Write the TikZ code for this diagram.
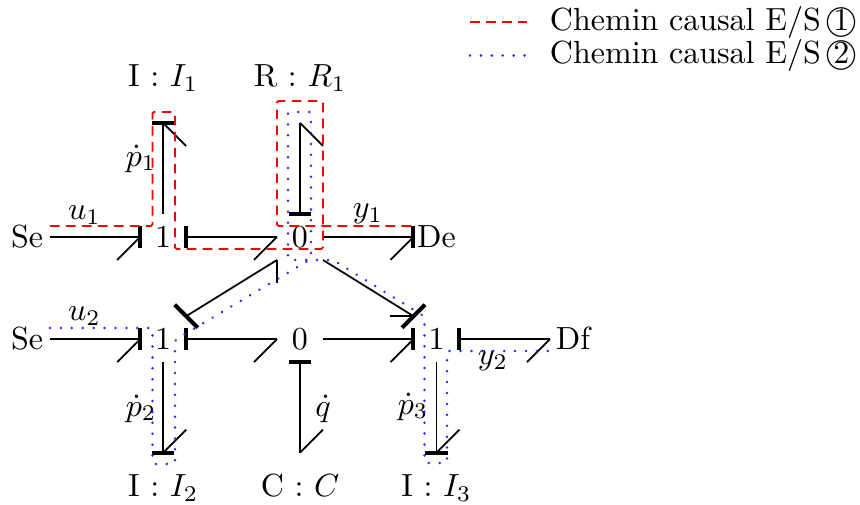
\documentclass[tikz,border=0pt]{standalone}
\usetikzlibrary{calc}
\newcommand{\cbarV}[1]{\draw[causal] (#1) ++(0,-11.3) -- ++(0,22.6);}
\newcommand{\cbarH}[1]{\draw[causal] (#1) ++(-11.3,0) -- ++(22.6,0);}
\newcommand{\cbarD}[1]{\draw[causal] (#1) ++(-11.5,-11.5) -- ++(23,23);}
\newcommand{\cbarA}[1]{\draw[causal] (#1) ++(-11.5,11.5) -- ++(23,-23);}
\newcommand{\cdig}[1]{\hspace*{-1.9pt}\ooalign{\hfil\raisebox{0.1pt}{#1}\hfil\cr$\bigcirc$\cr}}
\tikzset{
  x=0.3125pt,y=-0.3125pt,
  junc/.style={rectangle,inner sep=0pt,outer sep=0pt,minimum size=14.375pt,text height=6.44pt,text depth=0pt},
  portnode/.style={inner sep=0pt,outer sep=0pt,minimum size=0pt},
  toplab/.style={portnode,label={[inner sep=0pt,outer sep=0pt,text height=6.83pt,text depth=0pt,label distance=11.25pt]above:#1}},
  botlab/.style={portnode,label={[inner sep=0pt,outer sep=0pt,text height=6.83pt,text depth=0pt,label distance=6.97pt]below:#1}},
  elab/.style={inner sep=0pt,outer sep=0pt},
  bond/.style={line width=0.55pt,line cap=butt},
  causal/.style={line width=1.25pt},
  pathA/.style={red,line width=0.6pt,dash pattern=on 3pt off 2pt,rounded corners=0.5pt},
  pathB/.style={blue!85,line width=0.85pt,line cap=round,dash pattern=on 0.01pt off 3.4pt,rounded corners=0.5pt},
}
\begin{document}
\begin{tikzpicture}
\useasboundingbox (0,0) rectangle (860,505);
% junctions and sources
\node[junc] (se1) at (27,237) {Se};
\node[junc] (o1) at (163.2,237) {1};
\node[junc] (z1) at (300,237) {0};
\node[junc] (de) at (436.5,237) {De};
\node[junc] (se2) at (27,339.2) {Se};
\node[junc] (o2) at (163.2,339.2) {1};
\node[junc] (z2) at (300,339.2) {0};
\node[junc] (o3) at (436.5,339.2) {1};
\node[junc] (df) at (573,339.2) {Df};
\node[toplab={I : $I_1$}] (i1) at (163.2,123) {};
\node[toplab={R : $R_1$}] (r1) at (300,123) {};
\node[botlab={I : $I_2$}] (i2) at (163.2,452.7) {};
\node[botlab={C : $C$}] (c) at (300,452.7) {};
\node[botlab={I : $I_3$}] (i3) at (436.5,452.7) {};
% bonds
\draw[bond] (se1.east) -- (o1.west);
\draw[bond] (o1.west) -- ++(-23,23); \cbarV{o1.west}
\draw[bond] (o1.north) -- (i1.center);
\draw[bond] (i1.center) -- ++(23,23); \cbarH{i1.center}
\draw[bond] (o1.east) -- (z1.west);
\draw[bond] (z1.west) -- ++(-23,23); \cbarV{o1.east}
\draw[bond] (z1.east) -- (de.west);
\draw[bond] (de.west) -- ++(-23,23); \cbarV{de.west}
\draw[bond] (z1.north) -- (r1.center);
\draw[bond] (r1.center) -- ++(23,23); \cbarH{z1.north}
\draw[bond] (o2.north east) -- (z1.south west);
\draw[bond] (z1.south west) -- ++(0,23); \cbarD{o2.north east}
\draw[bond] (z1.south east) -- (o3.north west);
\draw[bond] (o3.north west) -- ++(-23,0); \cbarA{o3.north west}
\draw[bond] (se2.east) -- (o2.west);
\draw[bond] (o2.west) -- ++(-23,23); \cbarV{o2.west}
\draw[bond] (o2.south) -- (i2.center);
\draw[bond] (i2.center) -- ++(23,-23); \cbarH{i2.center}
\draw[bond] (o2.east) -- (z2.west);
\draw[bond] (z2.west) -- ++(-23,23); \cbarV{o2.east}
\draw[bond] (z2.east) -- (o3.west);
\draw[bond] (o3.west) -- ++(-23,23); \cbarV{o3.west}
\draw[bond] (z2.south) -- (c.center);
\draw[bond] (c.center) -- ++(23,-23); \cbarH{z2.south}
\draw[bond] (o3.east) -- (df.west);
\draw[bond] (df.west) -- ++(-23,23); \cbarV{o3.east}
\draw[bond] (o3.south) -- (i3.center);
\draw[bond] (i3.center) -- ++(23,-23); \cbarH{i3.center}
% edge labels
\node[elab] (lu1) at (84.5,215) {$u_1$};
\node[elab] (lu2) at (84.5,316) {$u_2$};
\node[elab] (ly1) at (368,214) {$y_1$};
\node[elab] (ly2) at (493,361) {$y_2$};
\node[elab] (lp1) at (141,158.5) {$\dot p_1$};
\node[elab] (lp2) at (141,408.5) {$\dot p_2$};
\node[elab] (lp3) at (413,406.5) {$\dot p_3$};
\node[elab] (lq) at (323,408.5) {$\dot q$};
% causal paths
\coordinate (a0) at (50,226);
\coordinate (a1) at (413,226);
\draw[pathA] (a0) -| (152.5,112) -| (175,249) -| (323,101) -| (277,226) -- (a1);
\coordinate (b0) at (50,328);
\coordinate (b1) at (549,351);
\draw[pathB] (b0) -| (152.5,464) -| (175,340) -- (311,259) |- (288,112) |- (333,260)
  -- (424.5,316.5) |- (447,463) |- (b1);
% legend
\coordinate (la0) at (470,22);
\coordinate (la1) at (527,22);
\coordinate (lb0) at (470,55.5);
\coordinate (lb1) at (527,55.5);
\draw[pathA] (la0) -- (la1);
\draw[pathB] (lb0) -- (lb1);
\node[elab,anchor=base west] (ta) at (550,30.5) {Chemin causal E/S \cdig{1}};
\node[elab,anchor=base west] (tb) at (550,64) {Chemin causal E/S \cdig{2}};
\end{tikzpicture}
\end{document}
